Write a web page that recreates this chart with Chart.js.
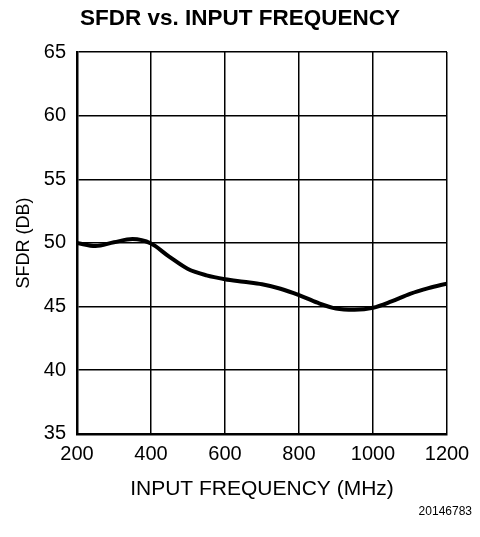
<!DOCTYPE html>
<html>
<head>
<meta charset="utf-8">
<script src="https://cdn.jsdelivr.net/npm/chart.js@4/dist/chart.umd.min.js"></script>
<style>
  html,body{margin:0;padding:0;background:#fff;}
  #wrap{width:480px;height:537px;position:relative;}
</style>
</head>
<body>
<div id="wrap"><canvas id="chart"></canvas></div>
<script>
  // values (MHz -> dB)
  const freqs=[200,250,300,350,400,450,500,550,600,650,700,750,800,850,900,950,1000,1050,1100,1150,1200];
  const sfdr=[50.0,49.75,50.05,50.3,49.95,48.9,47.95,47.45,47.15,46.95,46.75,46.4,45.9,45.3,44.85,44.75,44.9,45.4,46.0,46.45,46.8];
  const xTicks=[200,400,600,800,1000,1200];
  const yTicks=[35,40,45,50,55,60,65];
  const chartTitle='SFDR vs. INPUT FREQUENCY';
  const xTitle='INPUT FREQUENCY (MHz)';
  const yTitle='SFDR (DB)';
  const footNote='20146783';

  const FONT='"Liberation Sans", Arial, Helvetica, sans-serif';

  const footNotePlugin={
    id:'footNote',
    afterDraw(chart){
      const ctx=chart.ctx;
      ctx.save();
      ctx.font='12px '+FONT;
      ctx.fillStyle='#000';
      ctx.textAlign='right';
      ctx.textBaseline='middle';
      ctx.fillText(footNote,472,512);
      ctx.restore();
    }
  };

  new Chart(document.getElementById('chart'),{
    type:'line',
    data:{
      datasets:[{
        data:freqs.map((f,i)=>({x:f,y:sfdr[i]})),
        borderColor:'#000',
        borderWidth:4,
        pointRadius:0,
        tension:0.4,
        cubicInterpolationMode:'monotone',
        fill:false
      }]
    },
    options:{
      responsive:true,
      maintainAspectRatio:false,
      animation:false,
      layout:{padding:{left:0,right:0,top:0,bottom:35}},
      plugins:{
        legend:{display:false},
        tooltip:{enabled:false},
        title:{
          display:true,
          text:chartTitle,
          color:'#000',
          font:{family:FONT,size:22.5,weight:'bold'},
          padding:{top:5,bottom:20}
        }
      },
      scales:{
        x:{
          type:'linear',
          min:200,max:1200,
          afterBuildTicks:s=>{s.ticks=xTicks.map(v=>({value:v}));},
          grid:{color:'#000',lineWidth:1.5,drawTicks:false},
          border:{color:'#000',width:2.5},
          ticks:{color:'#000',padding:9,font:{family:FONT,size:20},maxRotation:0,callback:v=>String(v)},
          title:{display:true,text:xTitle,color:'#000',font:{family:FONT,size:21},padding:{top:1,bottom:0}}
        },
        y:{
          min:35,max:65,
          afterBuildTicks:s=>{s.ticks=yTicks.map(v=>({value:v}));},
          afterFit:s=>{s.width=77;},
          grid:{color:'#000',lineWidth:1.5,drawTicks:false},
          border:{color:'#000',width:2.5},
          ticks:{color:'#000',padding:11,font:{family:FONT,size:20},callback:v=>String(v)},
          title:{display:true,text:yTitle,color:'#000',font:{family:FONT,size:18},padding:{top:13,bottom:0}}
        },
        // empty right-hand margin so the title centres over the whole page
        yRight:{
          position:'right',
          min:35,max:65,
          afterFit:s=>{s.width=33;},
          grid:{display:false,drawTicks:false},
          border:{display:false},
          ticks:{display:false}
        }
      }
    },
    plugins:[footNotePlugin]
  });
</script>
</body>
</html>
